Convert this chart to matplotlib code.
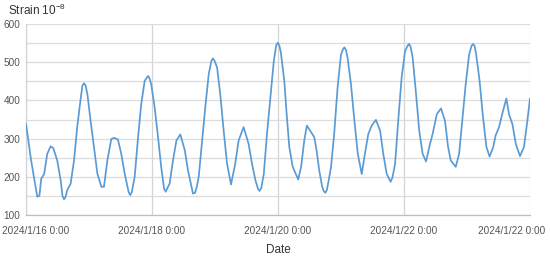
import matplotlib
matplotlib.use("Agg")
import matplotlib.pyplot as plt
import matplotlib.transforms as mtransforms
import pandas as pd

plt.rcParams["font.family"] = ["Liberation Sans", "DejaVu Sans"]
plt.rcParams["mathtext.fontset"] = "custom"
plt.rcParams["mathtext.rm"] = "Liberation Sans"

# hours since 2024/1/16 0:00 (strain, 1e-8)
hours = [
    0.0, 0.8, 1.8, 3.0, 4.3, 5.1, 5.8, 6.9, 8.1, 9.4, 10.4, 11.9, 13.2, 13.9,
    14.5, 15.1, 15.7, 17.0, 18.3, 19.5, 20.8, 21.5, 22.1, 22.7, 23.4, 24.6,
    25.9, 27.2, 28.7, 29.7, 31.0, 32.5, 33.5, 35.0, 36.3, 37.6, 39.1, 39.7,
    40.3, 41.4, 42.7, 43.9, 45.2, 45.9, 46.5, 47.1, 47.7, 49.0, 50.3, 51.5,
    52.6, 53.2, 54.7, 56.0, 57.3, 58.8, 60.5, 61.7, 63.6, 64.4, 65.1, 65.8,
    67.0, 68.3, 69.6, 70.6, 71.2, 71.8, 72.8, 74.0, 75.3, 76.6, 78.1, 79.7,
    81.0, 82.9, 84.8, 86.1, 87.4, 88.4, 89.0, 89.6, 90.6, 91.8, 93.1, 94.4,
    95.3, 95.9, 96.5, 97.1, 98.4, 99.3, 100.3, 101.6, 103.7, 104.8, 106.0,
    107.0, 108.6, 109.8, 110.7, 111.7, 112.8, 113.4, 114.0, 114.6, 115.3,
    116.2, 117.4, 118.7, 120.0, 120.7, 121.3, 121.9, 122.5, 123.8, 125.1,
    126.4, 127.9, 129.1, 130.4, 131.7, 133.3, 134.9, 136.1, 137.4, 138.9,
    139.6, 140.6, 141.8, 143.1, 144.4, 145.3, 145.9, 146.5, 147.3, 148.6,
    149.8, 151.1, 152.4, 153.9, 154.9, 156.5, 158.1, 159.6, 160.8, 161.8,
    163.7, 165.0, 166.2, 167.5, 168.8, 169.7, 170.3, 170.9, 171.5, 172.8,
    174.1, 175.4, 176.6, 178.0, 178.9, 180.2, 181.4, 183.0, 184.0, 185.3,
    186.6, 188.2, 189.7, 191.0, 192.0,
]
strain = [
    338, 300, 250, 200, 148, 150, 195, 207, 260, 280, 275, 243, 191, 150,
    141, 148, 165, 182, 243, 330, 403, 439, 445, 439, 416, 347,
    278, 208, 174, 174, 243, 299, 302, 298, 260, 208, 160, 152,
    160, 200, 304, 390, 451, 458, 464, 457, 442, 382, 304, 226,
    169, 161, 182, 243, 295, 311, 269, 217, 156, 158, 175, 200,
    286, 382, 468, 503, 510, 504, 486, 416, 321, 234, 180, 234,
    295, 330, 286, 234, 191, 168, 163, 170, 208, 312, 408, 503,
    544, 551, 544, 525, 451, 364, 278, 226, 193, 226, 295,
    334, 317, 304, 269, 217, 175, 163, 158, 165, 190,
    226, 312, 434, 520, 533, 539, 532, 512, 442, 347,
    260, 207, 260, 312, 334, 349, 321, 260, 208, 187,
    198, 234, 347, 460, 529, 542, 548, 541, 512, 416,
    321, 260, 240, 286, 312, 364, 379, 347, 278, 243,
    226, 260, 347, 442, 520, 542, 548, 542, 520, 451,
    356, 278, 253, 278, 308, 330, 364, 405, 364, 338,
    286, 254, 278, 347, 405,
]
tick_dates = ["2024-01-16", "2024-01-18", "2024-01-20", "2024-01-22", "2024-01-24"]
tick_labels = ["2024/1/16 0:00", "2024/1/18 0:00", "2024/1/20 0:00",
               "2024/1/22 0:00", "2024/1/22 0:00"]

start = pd.Timestamp("2024-01-16 00:00")
times = start + pd.to_timedelta(hours, unit="h")

fig = plt.figure(figsize=(5.5, 2.6), dpi=100)
ax = fig.add_axes([26 / 550, 1 - 215 / 260, 504 / 550, 191 / 260])

ax.plot(times, strain, color="#5b9bd5", linewidth=1.25, zorder=3,
        solid_joinstyle="round", solid_capstyle="round")

ticks = pd.to_datetime(tick_dates)
ax.set_xlim(ticks[0], ticks[-1])
ax.set_ylim(100, 600)
ax.set_xticks(ticks)
ax.set_xticklabels(tick_labels)
ax.set_yticks(range(100, 601, 100))
ax.set_yticks(range(150, 600, 100), minor=True)

ax.grid(axis="y", which="both", color="#dcdcdc", linewidth=0.9)
ax.grid(axis="x", which="major", color="#d4d4d4", linewidth=0.9)
ax.tick_params(axis="both", which="both", length=0, labelsize=7.2, labelcolor="#555555")
ax.tick_params(axis="x", pad=8)
ax.tick_params(axis="y", pad=4)

for side in ["top", "right"]:
    ax.spines[side].set_visible(False)
ax.spines["left"].set_color("#d4d4d4")
ax.spines["bottom"].set_color("#bfbfbf")
ax.spines["left"].set_linewidth(0.9)
ax.spines["bottom"].set_linewidth(0.9)

# first and last date labels are pushed inside the picture
labels = ax.get_xticklabels()
labels[0].set_transform(labels[0].get_transform() +
                        mtransforms.ScaledTranslation(10 / 100, 0, fig.dpi_scale_trans))
labels[-1].set_transform(labels[-1].get_transform() +
                         mtransforms.ScaledTranslation(-18 / 100, 0, fig.dpi_scale_trans))

fig.text(8 / 550, 1 - 10 / 260, "Strain 10$^{-8}$", fontsize=8.5, color="#333333",
         ha="left", va="center")
fig.text(278 / 550, 1 - 250 / 260, "Date", fontsize=8.5, color="#333333",
         ha="center", va="center")

fig.savefig("out.png", dpi=100)
